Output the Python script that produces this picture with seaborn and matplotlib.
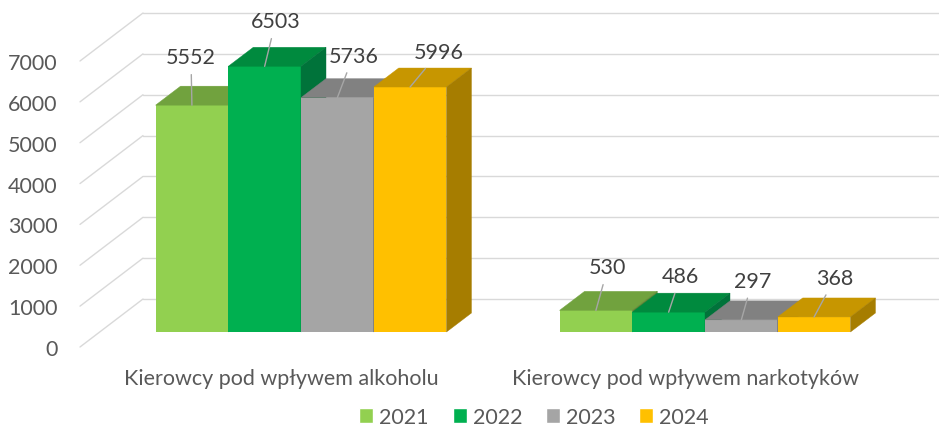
import numpy as np
import pandas as pd
import matplotlib
matplotlib.use('Agg')
import matplotlib.pyplot as plt
from matplotlib.patches import Polygon
import seaborn as sns

# dane
categories = ['Kierowcy pod wpływem alkoholu', 'Kierowcy pod wpływem narkotyków']
years = ['2021', '2022', '2023', '2024']
values_2021 = [5552, 530]
values_2022 = [6503, 486]
values_2023 = [5736, 297]
values_2024 = [5996, 368]
y_ticks = [0, 1000, 2000, 3000, 4000, 5000, 6000, 7000]

# kolory: przód, góra, bok
front_colors = ['#92D050', '#00B050', '#A5A5A5', '#FFC000']
top_colors = ['#71A23E', '#008A3E', '#818181', '#C79600']
side_colors = ['#5F8734', '#00733A', '#6B6B6B', '#A67D00']

# przesunięcia etykiet (px) względem środka górnej krawędzi słupka
label_offsets = [[(-1, 48), (12, 43)],
                 [(11, 45), (12, 36)],
                 [(16, 42), (11, 39)],
                 [(29, 35), (21, 39)]]

W, H = 939, 427
PX_X = 404.0          # px na jednostkę osi x
PX_Y = 286.0 / 7000   # px na jednostkę osi y

def dx(p):
    return p / PX_X

def dy(p):
    return p / PX_Y

sns.set_style('white')
plt.rcParams['font.family'] = ['Lato', 'DejaVu Sans']
text_color = '#595959'
fs = 15.5

fig = plt.figure(figsize=(W / 100, H / 100), dpi=100)
ax = fig.add_axes([80 / W, (H - 348) / H, 796 / W, 286 / H])

df = pd.DataFrame({
    'kategoria': categories * 4,
    'rok': np.repeat(years, 2),
    'liczba': values_2021 + values_2022 + values_2023 + values_2024,
})
sns.barplot(data=df, x='kategoria', y='liczba', hue='rok', palette=front_colors,
            saturation=1, width=0.72, ax=ax)

xl, xr = -201 / PX_X, 595 / PX_X
ax.set_xlim(xl, xr)
ax.set_ylim(0, 7000)

# geometria 3D (płaszczyzna słupków, głębokość, ściana)
ox, oy = dx(20), dy(15)
ddx, ddy = dx(25), dy(19)
wdx, wdy = dx(63), dy(48)

# siatka na ścianie i podłodze
for v in y_ticks:
    ax.plot([xl, xl + wdx], [v, v + wdy], color='#D9D9D9', lw=1, clip_on=False, zorder=1)
    ax.plot([xl + wdx, xr + wdx], [v + wdy, v + wdy], color='#D9D9D9', lw=1,
            clip_on=False, zorder=1)

for i, cont in enumerate(ax.containers):
    for j, bar in enumerate(cont):
        x0, w, h = bar.get_x(), bar.get_width(), bar.get_height()
        z = 3 + x0
        bar.set_x(x0 + ox)
        bar.set_y(oy)
        bar.set_linewidth(0)
        bar.set_clip_on(False)
        bar.set_zorder(z)
        xa = x0 + ox
        top = Polygon([(xa, h + oy), (xa + w, h + oy), (xa + w + ddx, h + oy + ddy),
                       (xa + ddx, h + oy + ddy)], closed=True, facecolor=top_colors[i],
                      edgecolor=top_colors[i], lw=0.3, clip_on=False, zorder=z)
        side = Polygon([(xa + w, oy), (xa + w, oy + h), (xa + w + ddx, oy + h + ddy),
                        (xa + w + ddx, oy + ddy)], closed=True, facecolor=side_colors[i],
                       edgecolor=side_colors[i], lw=0.3, clip_on=False, zorder=z)
        ax.add_patch(top)
        ax.add_patch(side)
        lx, ly = label_offsets[i][j]
        ax.annotate(f'{h:.0f}', xy=(xa + w / 2, h + oy), xytext=(lx * 0.72, ly * 0.72),
                    textcoords='offset points', ha='center', va='center', fontsize=fs,
                    color='#404040', annotation_clip=False, zorder=20,
                    arrowprops=dict(arrowstyle='-', color='#A6A6A6', lw=1,
                                    shrinkA=3, shrinkB=0))

ax.set_yticks(y_ticks)
ax.tick_params(axis='y', length=0, pad=16, labelsize=fs, labelcolor=text_color)
ax.tick_params(axis='x', length=0, pad=15, labelsize=fs, labelcolor=text_color)
ax.set_xlabel('')
ax.set_ylabel('')
sns.despine(ax=ax, left=True, bottom=True)

sns.move_legend(ax, 'center', bbox_to_anchor=(534 / W, 9 / H), bbox_transform=fig.transFigure,
                ncol=4, frameon=False, title=None, fontsize=fs, labelcolor=text_color,
                handlelength=0.65, handleheight=0.65, handletextpad=0.28, columnspacing=1.1)

fig.savefig('out.png', dpi=100)
